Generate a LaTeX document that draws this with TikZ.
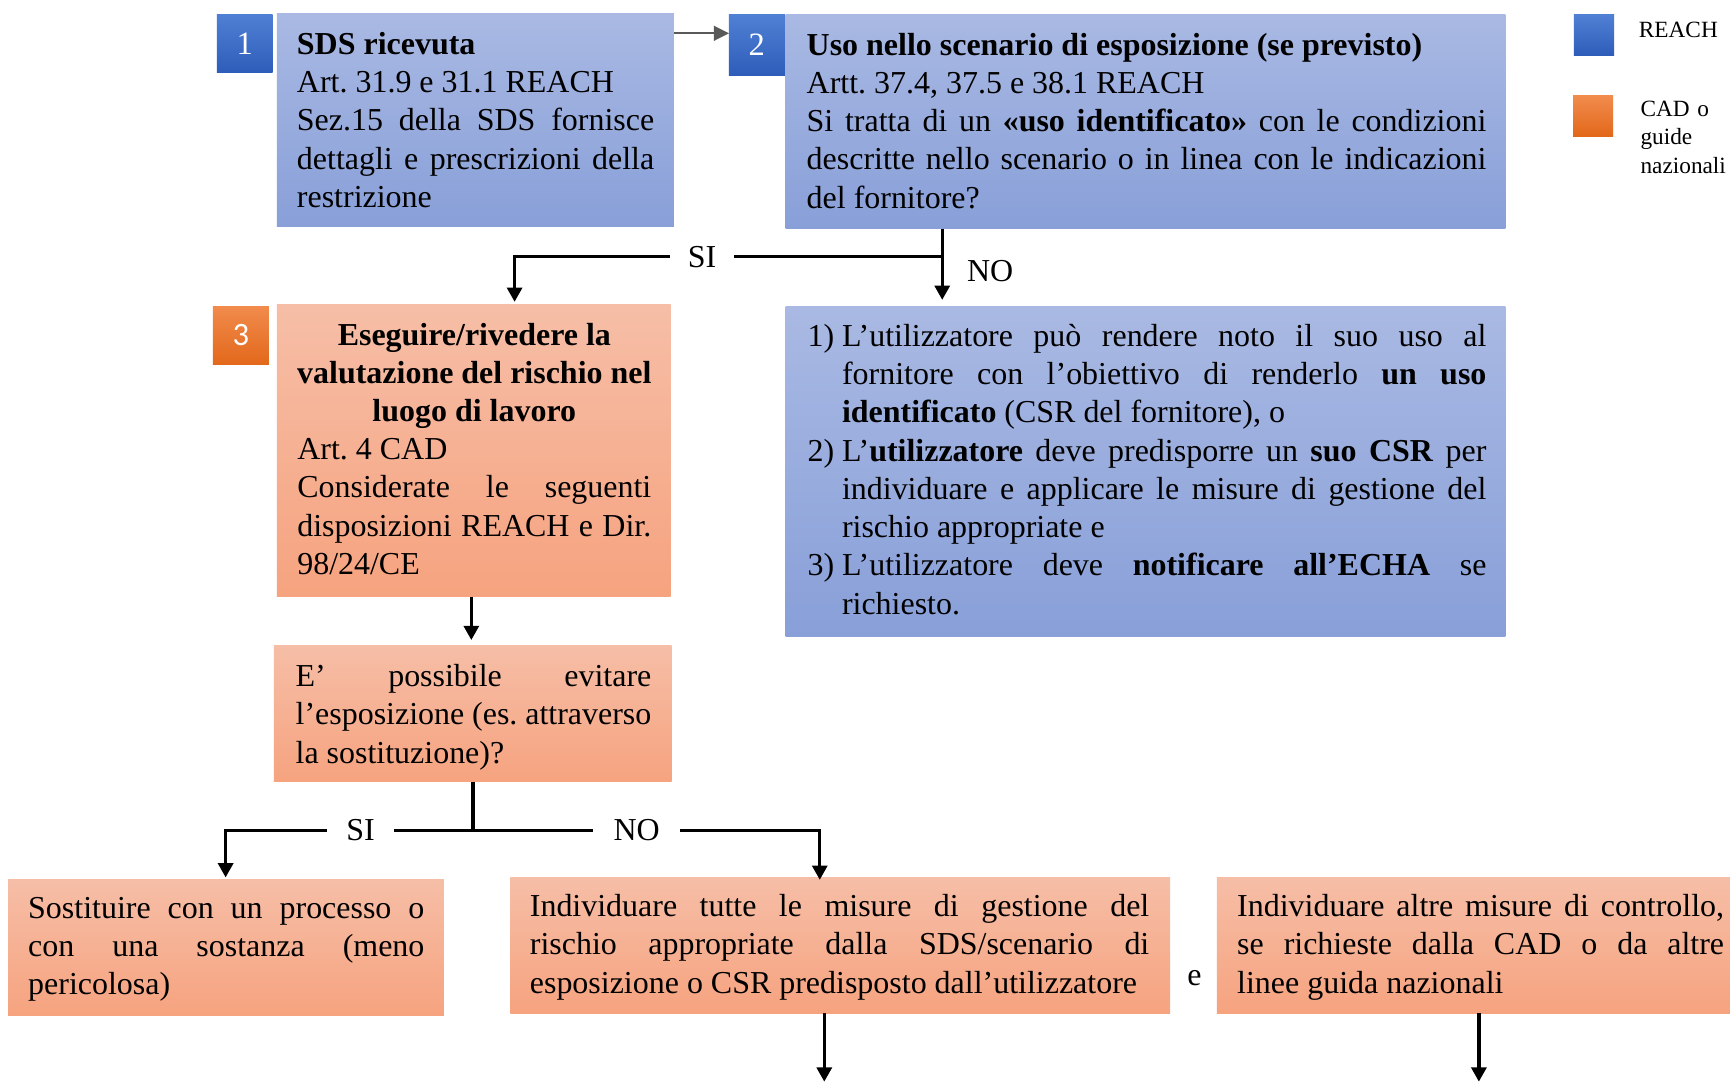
\documentclass[tikz,border=0pt]{standalone}
\usepackage{fontspec}
\setmainfont{Liberation Serif}
\newfontfamily\numfont{Carlito}
\usetikzlibrary{fit,arrows.meta}
\frenchspacing
\definecolor{bxtop}{HTML}{A9B9E3}
\definecolor{bxbot}{HTML}{889FD8}
\definecolor{sltop}{HTML}{F6BEA7}
\definecolor{slbot}{HTML}{F6A37F}
\definecolor{bdbtop}{HTML}{5080D4}
\definecolor{bdbbot}{HTML}{2D5DB9}
\definecolor{bdotop}{HTML}{F18B4C}
\definecolor{bdobot}{HTML}{E2681B}
\definecolor{grayarrow}{HTML}{595959}
\newcommand\mainsz{\fontsize{10.3}{12.32}\selectfont}
\newcommand\legsz{\fontsize{7.5}{9.14}\selectfont}
\newcommand\numsz{\fontsize{10.5}{12}\selectfont}
\newcommand\jl[1]{{\spaceskip=0pt\xspaceskip=0pt\makebox[\hsize][s]{#1}}}
\newcommand\cl[1]{\makebox[\hsize][c]{#1}}
\newcommand\iJ[2]{\makebox[0.39cm][l]{#1}{\spaceskip=0pt\xspaceskip=0pt\makebox[7.299cm][s]{#2}}}
\newcommand\iL[2]{\makebox[0.39cm][l]{#1}#2}
\begin{document}
\begin{tikzpicture}[x=0.0125cm,y=-0.0125cm,
  bluebox/.style={inner sep=0pt, outer sep=0pt, top color=bxtop, bottom color=bxbot},
  salbox/.style={inner sep=0pt, outer sep=0pt, top color=sltop, bottom color=slbot},
  bluebadge/.style={inner sep=0pt, outer sep=0pt, top color=bdbtop, bottom color=bdbbot},
  orbadge/.style={inner sep=0pt, outer sep=0pt, top color=bdotop, bottom color=bdobot},
  numtxt/.style={inner sep=0pt, text=white, font=\numsz},
  txt/.style={anchor=base west, inner sep=0pt, align=justify, font=\mainsz},
  conn/.style={line width=1.1pt, black},
  arr/.style={conn, -{Triangle[length=4.6pt,width=4.8pt]}},
  grayarr/.style={line width=0.6pt, color=grayarrow, -{Triangle[length=4.9pt,width=4.8pt]}},
  lbl/.style={fill=white, inner ysep=1pt, font=\mainsz},
  legtxt/.style={anchor=base west, inner sep=0pt, align=left, font=\legsz, text width=2cm}
]
\useasboundingbox (0,0) rectangle (1568,981);
\fill[white] (0,0) rectangle (1568,981);

% legend
\node[bluebadge, fit={(1426.6,13.6)(1462.9,49.9)}] (legb) {};
\node[legtxt] (legbt) at (1484.9,34.1) {REACH};
\node[orbadge, fit={(1425.7,87)(1462,123.3)}] (lego) {};
\node[legtxt] (legot) at (1486.4,105.7) {CAD o\\guide\\nazionali};

% box 1
\node[bluebadge, fit={(196.5,12.7)(247.2,65.9)}] (n1) {};
\node[numtxt] (n1t) at (n1.center) {1};
\node[bluebox, fit={(251,11.8)(610.7,205.5)}] (b1) {};
\node[txt, text width=4.046cm] (t1) at (268.6,49.3) {%
\textbf{SDS ricevuta}\\
Art. 31.9 e 31.1 REACH\\
\jl{Sez.15 della SDS fornisce}\\
\jl{dettagli e prescrizioni della}\\
restrizione};

% box 2
\node[bluebadge, fit={(660.7,13.6)(711.3,68)}] (n2) {};
\node[numtxt] (n2t) at (n2.center) {2};
\node[bluebox, fit={(712,12.7)(1364.5,207.3)}] (b2) {};
\node[txt, text width=7.699cm] (t2) at (730.6,50) {%
\textbf{Uso nello scenario di esposizione (se previsto)}\\
Artt. 37.4, 37.5 e 38.1 REACH\\
\jl{Si tratta di un \textbf{«uso identificato»} con le condizioni}\\
\jl{descritte nello scenario o in linea con le indicazioni}\\
del fornitore?};

% list box
\node[bluebox, fit={(712,278)(1364.5,577)}] (bl) {};
\node[txt, text width=7.69cm] (tl) at (731.4,314) {%
\iJ{1)}{L’utilizzatore può rendere noto il suo uso al}\\
\iJ{}{fornitore con l’obiettivo di renderlo \textbf{un uso}}\\
\iL{}{\textbf{identificato} (CSR del fornitore), o}\\
\iJ{2)}{L’\textbf{utilizzatore} deve predisporre un \textbf{suo CSR} per}\\
\iJ{}{individuare e applicare le misure di gestione del}\\
\iL{}{rischio appropriate e}\\
\iJ{3)}{L’utilizzatore deve \textbf{notificare all’ECHA} se}\\
\iL{}{richiesto.}};

% box 3
\node[orbadge, fit={(193,277.4)(243.8,330.8)}] (n3) {};
\node[numtxt, font=\numsz\numfont] (n3t) at (n3.center) {3};
\node[salbox, fit={(251,276.4)(607.9,540.8)}] (b3) {};
\node[txt, text width=4.01cm] (t3) at (268.9,312.7) {%
\cl{\textbf{Eseguire/rivedere la}}\\
\cl{\textbf{valutazione del rischio nel}}\\
\cl{\textbf{luogo di lavoro}}\\
Art. 4 CAD\\
\jl{Considerate le seguenti}\\
\jl{disposizioni REACH e Dir.}\\
98/24/CE};

% box 4
\node[salbox, fit={(248.3,585.2)(608.8,708.5)}] (b4) {};
\node[txt, text width=4.029cm] (t4) at (267.4,622.4) {%
\jl{E’ possibile evitare}\\
\jl{l’esposizione (es. attraverso}\\
la sostituzione)?};

% bottom boxes
\node[salbox, fit={(7.3,796.7)(402.2,920.6)}] (bsi) {};
\node[txt, text width=4.4875cm] (tsi) at (25,832.3) {%
\jl{Sostituire con un processo o}\\
\jl{con una sostanza (meno}\\
pericolosa)};

\node[salbox, fit={(462.5,795.2)(1060.5,918.5)}] (bno) {};
\node[txt, text width=7.016cm] (tno) at (479.7,830.8) {%
\jl{Individuare tutte le misure di gestione del}\\
\jl{rischio appropriate dalla SDS/scenario di}\\
esposizione o CSR predisposto dall’utilizzatore};

\node[font=\mainsz, anchor=base, inner sep=0pt] (e) at (1082.6,892.8) {e};

\node[salbox, fit={(1103,795.2)(1590,918.5)}] (brt) {};
\node[txt, text width=5.515cm] (trt) at (1120.8,830.8) {%
\jl{Individuare altre misure di controllo,}\\
\jl{se richieste dalla CAD o da altre}\\
linee guida nazionali};

% connectors
\draw[grayarr] (b1.east |- 0,30.2) -- (n2.west |- 0,30.2);

\coordinate (j1) at (854,232.6);
\draw[arr, shorten >=2.2pt] (b2.south -| j1) -- (bl.north -| j1);
\draw[arr, shorten >=1pt] (j1) -- node[lbl, pos=0.5617, inner xsep=5.6pt] (si1) {SI} (466.4,232.6) -- (b3.north -| 466.4,0);
\node[font=\mainsz, anchor=base west, inner sep=0pt] (no1) at (876,255) {NO};

\draw[arr, shorten >=1.8pt] (b3.south -| 427.2,0) -- (b4.north -| 427.2,0);

\coordinate (j2) at (428.7,752.5);
\draw[conn] (b4.south -| j2) -- (j2);
\draw[arr, shorten >=0.5pt] (j2) -- node[lbl, pos=0.4545, inner xsep=6.35pt] (si2) {SI} (204.5,752.5) -- (bsi.north -| 204.5,0);
\draw[arr, shorten >=-0.8pt] (j2) -- node[lbl, pos=0.472, inner xsep=6.6pt] (no2) {NO} (743,752.5) -- (bno.north -| 743,0);

\coordinate (endno) at (747.1,980.4);
\coordinate (endrt) at (1340.4,980.4);
\draw[arr] (bno.south -| endno) -- (endno);
\draw[arr] (brt.south -| endrt) -- (endrt);
\end{tikzpicture}
\end{document}
